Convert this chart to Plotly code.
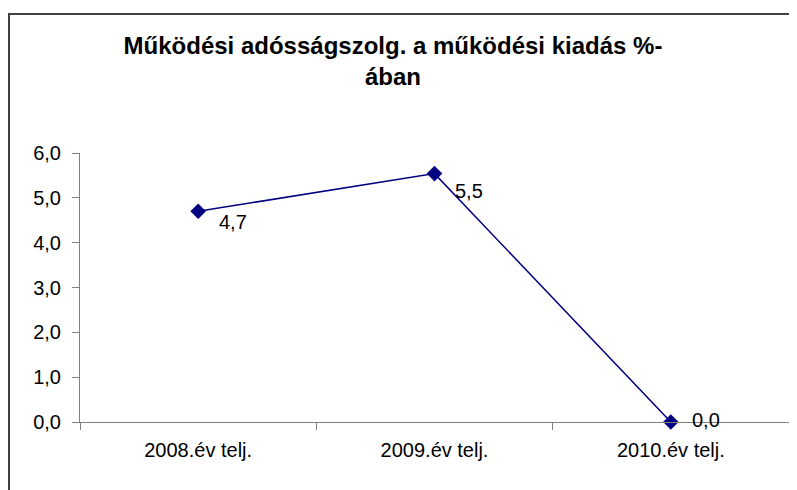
import plotly.graph_objects as go

categories = ["2008.év telj.", "2009.év telj.", "2010.év telj."]
values = [4.7, 5.54, 0.0]
title_text = "Működési adósságszolg. a működési kiadás %-<br>ában"
y_ticks = [0, 1, 2, 3, 4, 5, 6]

# label offsets (pixels) for each data label
label_dx = [19, 18, 19]
label_dy = [-11, -17, 2]

# page body has an 8px margin, so the figure is a bit smaller
W, H = 789, 482
L, R, T, B = 72, 8, 145, 68
pw = W - L - R
ph = H - T - B

FONT = "Liberation Sans, Arial, sans-serif"

fig = go.Figure()
fig.add_trace(go.Scatter(
    x=categories, y=values,
    mode="lines+markers",
    line=dict(color="#000080", width=1.5),
    marker=dict(symbol="diamond", size=12, color="#000080"),
    cliponaxis=False,
    showlegend=False,
))

for c, v, dx, dy in zip(categories, values, label_dx, label_dy):
    fig.add_annotation(x=c, y=v, xref="x", yref="y",
                       text=f"{v:.1f}".replace(".", ","),
                       showarrow=False, xanchor="left", yanchor="middle",
                       xshift=dx, yshift=dy,
                       font=dict(family=FONT, size=20, color="#000000"))

fig.add_shape(type="rect", xref="paper", yref="paper",
              x0=(1 - L) / pw, x1=(W + 20 - L) / pw,
              y0=-(B + 20) / ph, y1=(ph + T - 6) / ph,
              line=dict(color="#404040", width=2), fillcolor="rgba(0,0,0,0)", layer="above")

fig.update_layout(
    width=W, height=H,
    margin=dict(l=L, r=R, t=T, b=B),
    paper_bgcolor="white", plot_bgcolor="white",
    separators=", ",
    font=dict(family=FONT, size=20, color="#000000"),
    title=dict(text=title_text, x=(393 - 8) / W, xanchor="center", xref="container",
               y=1 - 46 / H, yanchor="top", yref="container",
               font=dict(family=FONT, size=24, color="#000000", weight="bold")),
    xaxis=dict(type="category", range=[-0.5, 2.5], showline=True, linecolor="#808080",
               linewidth=1, ticks="outside", tickson="boundaries", ticklen=7,
               tickcolor="#808080", ticklabelstandoff=10,
               showgrid=False, zeroline=False),
    yaxis=dict(range=[0, 6], tickvals=y_ticks, tickformat=".1f", showline=True,
               linecolor="#808080", linewidth=1, ticks="outside", ticklen=7,
               tickcolor="#808080", ticklabelstandoff=7,
               showgrid=False, zeroline=False),
)

fig.write_html("out.html")
